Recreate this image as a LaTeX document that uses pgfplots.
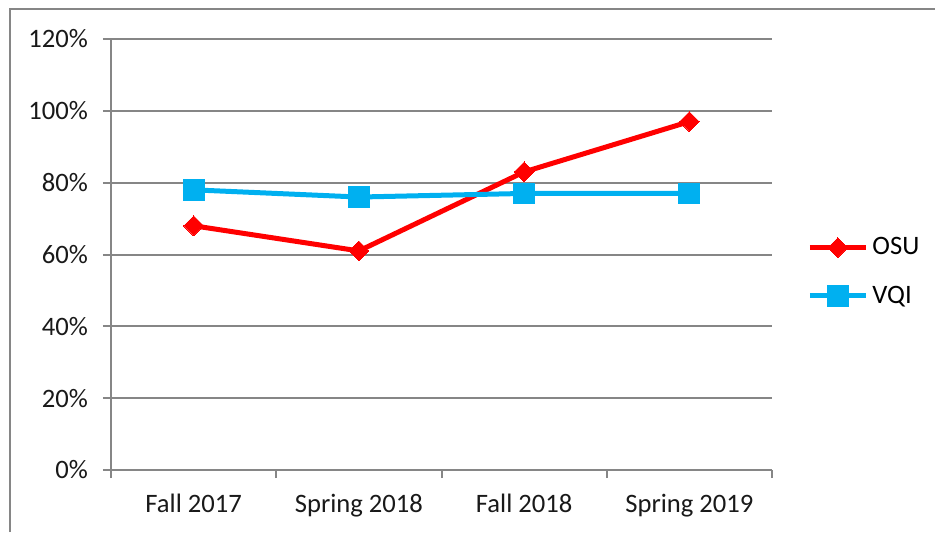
\documentclass[border=0pt]{standalone}
\usepackage{pgfplots}
\pgfplotsset{compat=1.18}
\usepackage{fontspec}
\setmainfont{Carlito}
\definecolor{osu}{HTML}{FF0000}
\definecolor{vqi}{HTML}{00B0F0}
\definecolor{axgray}{HTML}{868686}
\begin{document}
\begin{tikzpicture}
\path[use as bounding box] (0,0) rectangle (467.5pt,266pt);
\draw[axgray, line width=1pt] (5pt,0) -- (5pt,261.75pt) -- (467.5pt,261.75pt);
\begin{axis}[
  at={(55.5pt,31pt)}, anchor=south west,
  scale only axis, width=330.5pt, height=215.5pt,
  xmin=-0.5, xmax=3.5, ymin=0, ymax=120,
  xtick={-0.5,0.5,1.5,2.5,3.5},
  xticklabels={},
  extra x ticks={0,1,2,3},
  extra x tick labels={Fall 2017, Spring 2018, Fall 2018, Spring 2019},
  extra x tick style={major tick length=0pt},
  ytick={0,20,40,60,80,100,120},
  yticklabel={\pgfmathprintnumber{\tick}\%},
  /pgf/number format/assume math mode=true,
  axis lines*=left,
  axis line style={axgray, line width=1pt},
  tick align=outside,
  major tick length=4pt,
  tick style={axgray, line width=1pt},
  ymajorgrids, grid style={axgray, line width=1pt},
  ticklabel style={font=\fontsize{13.3}{15}\selectfont, text=black!90},
  xticklabel style={yshift=-8.5pt},
  yticklabel style={xshift=-4pt},
  legend style={at={(1.053,0.46)}, anchor=west, draw=none, fill=none,
    font=\fontsize{13.3}{15}\selectfont, row sep=10pt, inner sep=0pt},
  legend cell align=left,
  legend image code/.code={
    \draw[mark repeat=2, mark phase=2, #1] plot coordinates {(0pt,0pt) (14pt,0pt) (28pt,0pt)};
  },
]
\addplot[osu, line width=2.5pt, mark=square*, mark size=3.5pt, mark options={rotate=45, solid, line width=0pt}]
  coordinates {(0,68) (1,61) (2,83) (3,97)};
\addlegendentry{OSU}
\addplot[vqi, line width=2.5pt, mark=square*, mark size=5.2pt, mark options={solid, line width=0pt}]
  coordinates {(0,78) (1,76) (2,77) (3,77)};
\addlegendentry{VQI}
\end{axis}
\end{tikzpicture}
\end{document}
